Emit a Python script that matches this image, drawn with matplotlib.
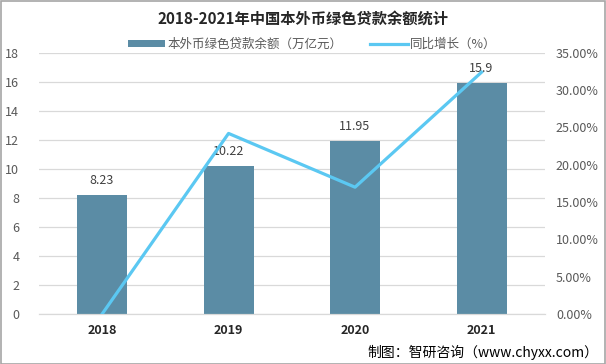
import matplotlib
matplotlib.use('Agg')
from matplotlib import pyplot as plt
from matplotlib.ticker import FuncFormatter
import numpy as np

plt.rcParams['font.family'] = ['Noto Sans CJK SC', 'DejaVu Sans']

years = ['2018', '2019', '2020', '2021']
balance = [8.23, 10.22, 11.95, 15.9]          # 万亿元
growth = [0.0, 24.2, 17.0, 32.4]              # %
balance_labels = ['8.23', '10.22', '11.95', '15.9']

bar_color = '#5b8ca5'
line_color = '#5bc8f2'
text_gray = '#595959'

fig = plt.figure(figsize=(6.06, 3.64), dpi=100)
ax = fig.add_axes([0.064, 0.137, 0.835, 0.718])
ax2 = ax.twinx()

x = np.arange(len(years))
bars = ax.bar(x, balance, width=0.395, color=bar_color, zorder=2,
              label='本外币绿色贷款余额（万亿元）')
for xi, v, s in zip(x, balance, balance_labels):
    ax.text(xi, v + 0.55, s, ha='center', va='bottom', fontsize=9, color='#404040')

ln, = ax2.plot(x, growth, color=line_color, linewidth=2.3, label='同比增长（%）', zorder=3)

ax.set_xlim(-0.5, len(years) - 0.5)
ax.set_ylim(0, 18)
ax.set_yticks(np.arange(0, 19, 2))
ax2.set_ylim(0, 35)
ax2.set_yticks(np.arange(0, 36, 5))
ax2.yaxis.set_major_formatter(FuncFormatter(lambda v, p: f'{v:.2f}%'))

ax.set_xticks(x)
ax.set_xticklabels(years, fontsize=9, fontweight='bold', color='#262626')
ax.tick_params(axis='x', length=0, pad=7)
ax.tick_params(axis='y', length=0, labelsize=9, labelcolor=text_gray, pad=14)
ax2.tick_params(axis='y', length=0, labelsize=9, labelcolor=text_gray, pad=8)

ax.grid(axis='y', color='#d9d9d9', linewidth=0.9, zorder=0)
ax.set_axisbelow(True)
for a in (ax, ax2):
    for side in ['top', 'right', 'left']:
        a.spines[side].set_visible(False)
    a.spines['bottom'].set_color('#d9d9d9')

fig.text(0.5, 0.95, '2018-2021年中国本外币绿色贷款余额统计', ha='center', va='center',
         fontsize=11, fontweight='bold', color='#262626')
fig.legend(handles=[bars, ln], loc='center', bbox_to_anchor=(0.515, 0.878), ncol=2,
           frameon=False, fontsize=9, labelcolor=text_gray, handlelength=3,
           handleheight=0.6, columnspacing=2.2, handletextpad=0.2)

fig.text(0.988, 0.033, '制图：智研咨询（www.chyxx.com）', ha='right', va='center',
         fontsize=10, color='#000000')

fig.patches.append(plt.Rectangle((0.001, 0.001), 0.997, 0.997, transform=fig.transFigure,
                                 fill=False, edgecolor='#a6a6a6', linewidth=1.2))

fig.savefig('out.png', dpi=100)
